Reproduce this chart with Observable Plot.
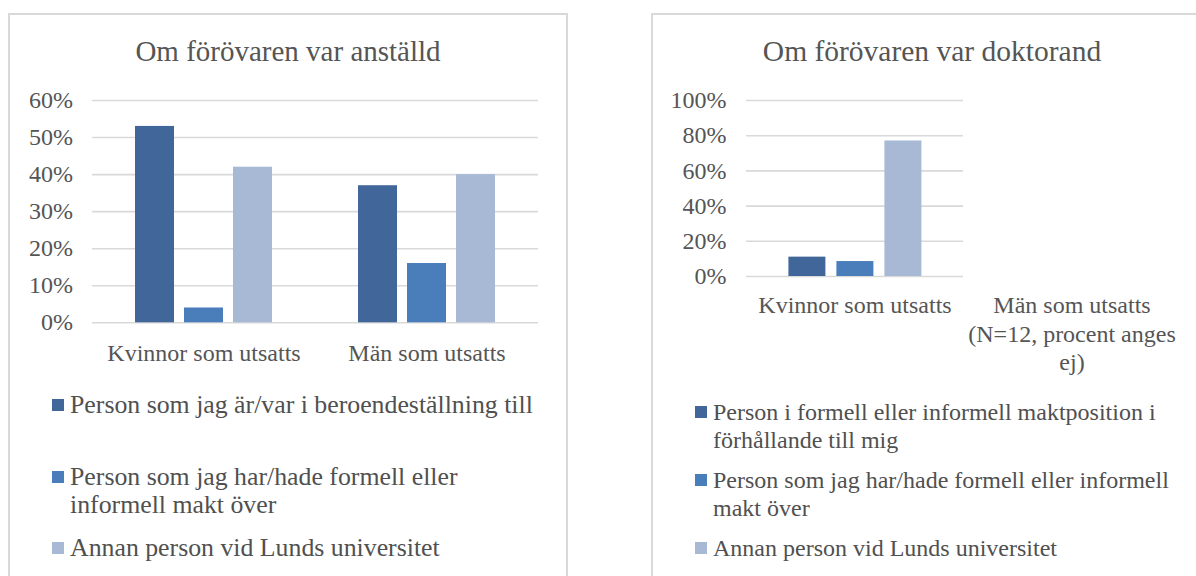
<!DOCTYPE html>
<html><head><meta charset="utf-8">
<script src="https://cdn.jsdelivr.net/npm/d3@7"></script>
<script src="https://cdn.jsdelivr.net/npm/@observablehq/plot@0.6"></script>
<style>
body{margin:0;background:#fff;width:1196px;height:576px;overflow:hidden;position:relative;font-family:"Liberation Serif","Times New Roman",serif;color:#555}
.panel{position:absolute;border:2px solid #d9d9d9;background:#fff;box-sizing:border-box}
.title{position:absolute;font-size:29px;line-height:34px;text-align:center;white-space:nowrap}
.chart{position:absolute;top:0}
.leg{position:absolute;line-height:28px;white-space:pre;color:#505050}
.sw{position:absolute;width:12px;height:12px}
svg text{font-family:"Liberation Serif","Times New Roman",serif}
</style></head><body>
<div class="panel" style="left:8px;top:13px;width:560px;height:620px"></div>
<div class="panel" style="left:651px;top:13px;width:620px;height:620px"></div>
<div class="title" style="left:8px;width:560px;top:34px">Om förövaren var anställd</div>
<div class="title" style="left:652px;width:560px;top:34px;font-size:29.5px">Om förövaren var doktorand</div>
<div class="chart" id="left" style="left:0;width:560px"></div>
<div class="chart" id="right" style="left:600px;width:596px"></div>
<div id="legends"></div>
<script>
const colors = ["#41679A", "#4A7EBB", "#A8B9D6"];

// Left chart: "Om förövaren var anställd"
const leftGroups = ["Kvinnor som utsatts", "Män som utsatts"];
const leftGroupLabels = ["Kvinnor som utsatts", "Män som utsatts"];
const leftSeries = [
  "Person som jag är/var i beroendeställning till",
  "Person som jag har/hade formell eller\ninformell makt över",
  "Annan person vid Lunds universitet"
];
const leftDependent = [0.53, 0.37];
const leftPowerOver = [0.04, 0.16];
const leftOther = [0.42, 0.40];
const leftTicks = [0, 0.1, 0.2, 0.3, 0.4, 0.5, 0.6];

// Right chart: "Om förövaren var doktorand"
const rightGroups = ["Kvinnor som utsatts", "Män som utsatts (N=12, procent anges ej)"];
const rightGroupLabels = ["Kvinnor som utsatts", "Män som utsatts\n(N=12, procent anges\nej)"];
const rightSeries = [
  "Person i formell eller informell maktposition i\nförhållande till mig",
  "Person som jag har/hade formell eller informell\nmakt över",
  "Annan person vid Lunds universitet"
];
const rightPowerPosition = [0.11, null];
const rightPowerOver = [0.085, null];
const rightOther = [0.77, null];
const rightTicks = [0, 0.2, 0.4, 0.6, 0.8, 1.0];

const FONT = "Liberation Serif, Times New Roman, serif";

function chart(o) {
  const data = [];
  o.groups.forEach((g, i) => o.series.forEach((s, j) => {
    const v = o.values[j][i];
    if (v != null) data.push({group: g, series: s, value: v});
  }));
  return Plot.plot({
    width: o.width, height: o.height,
    marginLeft: o.ml, marginRight: o.mr, marginTop: o.mt, marginBottom: o.mb,
    style: {background: "transparent", fontFamily: FONT, fontSize: "24px", color: "#555", overflow: "visible"},
    fx: {domain: o.groups, padding: 0, label: null},
    x: {domain: o.series, axis: null, paddingInner: o.xInner, paddingOuter: o.xOuter},
    y: {domain: [0, o.ticks[o.ticks.length - 1]], ticks: o.ticks, tickFormat: d => Math.round(d * 100) + "%", tickSize: 0, tickPadding: o.yPad, label: null},
    color: {domain: o.series, range: colors},
    marks: [
      Plot.gridY(o.ticks, {stroke: "#d9d9d9", strokeOpacity: 1, strokeWidth: 1.6}),
      Plot.axisFx({anchor: "bottom", tickSize: 0, tickPadding: o.fxPad, lineHeight: 1.17, label: null, fill: "#555",
        tickFormat: d => o.labels[o.groups.indexOf(d)]}),
      Plot.barY(data, {fx: "group", x: "series", y: "value", fill: "series"})
    ]
  });
}

document.getElementById("left").append(chart({
  groups: leftGroups, labels: leftGroupLabels, series: leftSeries,
  values: [leftDependent, leftPowerOver, leftOther], ticks: leftTicks,
  width: 560, height: 400, ml: 91, mr: 22, mt: 100, mb: 77.7,
  xInner: 0.2, xOuter: 0.866, yPad: 19.4, fxPad: 18
}));
document.getElementById("right").append(chart({
  groups: rightGroups, labels: rightGroupLabels, series: rightSeries,
  values: [rightPowerPosition, rightPowerOver, rightOther], ticks: rightTicks,
  width: 596, height: 400, ml: 145.6, mr: 16.3, mt: 100, mb: 124,
  xInner: 0.23, xOuter: 0.875, yPad: 20, fxPad: 17
}));

// Legends (HTML, below the SVGs)
function legend(series, x, tops, fontSize) {
  const root = document.getElementById("legends");
  series.forEach((s, i) => {
    const sw = document.createElement("div");
    sw.className = "sw";
    sw.style.left = x + "px";
    sw.style.top = (tops[i] + 8) + "px";
    sw.style.background = colors[i];
    root.append(sw);
    const t = document.createElement("div");
    t.className = "leg";
    t.style.fontSize = fontSize + "px";
    t.style.left = (x + 18) + "px";
    t.style.top = tops[i] + "px";
    t.textContent = s;
    root.append(t);
  });
}
legend(leftSeries, 52, [391, 463, 534], 25.8);
legend(rightSeries, 695, [398, 466, 534], 24);
</script>
</body></html>
